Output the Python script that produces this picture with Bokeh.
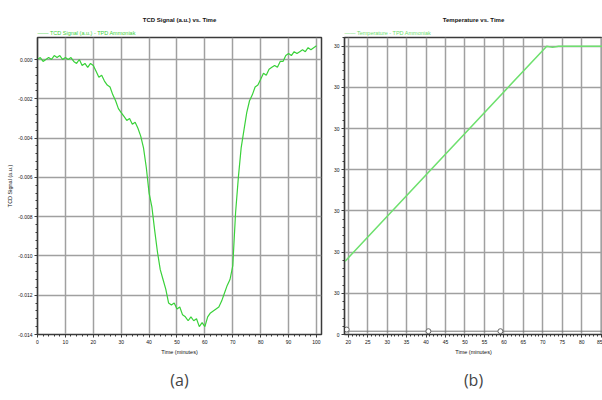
from bokeh.plotting import figure
from bokeh.layouts import row
from bokeh.models import FixedTicker, PrintfTickFormatter, Range1d, Title
from bokeh.embed import file_html
from bokeh.resources import INLINE

# ---------------- data ----------------
tcd_time = list(range(0, 101))
tcd_signal = [
    0.0000, 0.0001, -0.0001, 0.0000, 0.0001, 0.0000, 0.0002, 0.0001, 0.0002, 0.0000,
    0.0001, 0.0000, 0.0001, -0.0001, -0.0002, 0.0000, -0.0003, -0.0002, -0.0004, -0.0002,
    -0.0003, -0.0006, -0.0009, -0.0008, -0.0011, -0.0013, -0.0014, -0.0018, -0.0021, -0.0025,
    -0.0027, -0.0029, -0.0031, -0.0030, -0.0033, -0.0032, -0.0035, -0.0039, -0.0045, -0.0055,
    -0.0068, -0.0075, -0.0087, -0.0098, -0.0107, -0.0112, -0.0117, -0.0124, -0.0125, -0.0124,
    -0.0127, -0.0126, -0.0130, -0.0131, -0.0133, -0.0131, -0.0133, -0.0132, -0.0136, -0.0134,
    -0.0136, -0.0131, -0.0129, -0.0128, -0.0127, -0.0126, -0.0123, -0.0119, -0.0115, -0.0112,
    -0.0105, -0.0078, -0.0060, -0.0045, -0.0036, -0.0027, -0.0021, -0.0018, -0.0014, -0.0013,
    -0.0010, -0.0007, -0.0008, -0.0005, -0.0004, -0.0003, -0.0004, -0.0001, -0.0001, 0.0002,
    0.0003, 0.0002, 0.0004, 0.0003, 0.0004, 0.0005, 0.0004, 0.0006, 0.0005, 0.0006,
    0.0007,
]
temp_time = [19.2, 71.0, 72.5, 74.0, 86.0]
temp_value = [178, 700, 697, 700, 700]
baseline_time = [19.0, 86.0]
baseline_value = [8, 8]
marker_time = [19.6, 40.6, 59.1]
marker_value = [12, 8, 8]

tcd_x_ticks = list(range(0, 101, 10))
tcd_y_ticks = [0.0, -0.002, -0.004, -0.006, -0.008, -0.010, -0.012, -0.014]
temp_x_ticks = list(range(20, 86, 5))
temp_y_ticks = [0, 100, 200, 300, 400, 500, 600, 700]
temp_y_labels = ["0", "30", "30", "30", "30", "30", "30", "30"]

FONT = "Liberation Sans"
GREEN = "#3ad13a"
GREEN2 = "#6ee06e"
GRID = "#a0a0a0"


def style(p):
    p.outline_line_color = "#3a3a3a"
    p.outline_line_width = 1.5
    p.background_fill_color = "white"
    p.border_fill_color = "white"
    for g in (p.xgrid, p.ygrid):
        g.grid_line_color = GRID
        g.grid_line_width = 1.5
    for ax in (p.xaxis, p.yaxis):
        ax.axis_line_color = "#3a3a3a"
        ax.axis_line_width = 1.2
        ax.major_tick_line_color = "#3a3a3a"
        ax.minor_tick_line_color = "#3a3a3a"
        ax.major_tick_in = 0
        ax.major_tick_out = 3
        ax.minor_tick_in = 0
        ax.minor_tick_out = 2
        ax.major_label_text_font = FONT
        ax.major_label_text_font_size = "5px"
        ax.major_label_text_color = "#111111"
        ax.major_label_standoff = 2
        ax.axis_label_text_font = FONT
        ax.axis_label_text_font_size = "5.5px"
        ax.axis_label_text_font_style = "normal"
        ax.axis_label_text_color = "#111111"
        ax.axis_label_standoff = 2


def add_titles(p, legend_text, legend_color, title_text, title_offset):
    p.title.visible = False
    p.add_layout(Title(text=legend_text, align="left", text_font=FONT,
                       text_font_size="5.5px", text_font_style="normal",
                       text_color=legend_color, standoff=3), "above")
    p.add_layout(Title(text=title_text, align="center", offset=title_offset,
                       text_font=FONT, text_font_size="6px", text_font_style="bold",
                       text_color="#111111", standoff=7), "above")


# ---------------- left panel ----------------
p1 = figure(width=330, height=400, min_border_left=37,
            min_border_right=9, min_border_top=33, min_border_bottom=65,
            x_range=Range1d(0, 101.8), y_range=Range1d(-0.014, 0.00112),
            output_backend="svg", toolbar_location=None)
style(p1)
p1.xaxis.ticker = FixedTicker(ticks=tcd_x_ticks,
                              minor_ticks=[i * 2 for i in range(0, 51)])
p1.yaxis.ticker = FixedTicker(ticks=tcd_y_ticks,
                              minor_ticks=[-0.0004 * i for i in range(0, 36)])
p1.yaxis.formatter = PrintfTickFormatter(format="%.3f")
p1.xaxis.axis_label = "Time (minutes)"
p1.yaxis.axis_label = "TCD Signal (a.u.)"
p1.line(tcd_time, tcd_signal, line_color=GREEN, line_width=1.2)
add_titles(p1, "\u2014\u2014  TCD Signal (a.u.) - TPD Ammoniak", GREEN,
           "TCD Signal (a.u.) vs. Time", 0)

# ---------------- right panel ----------------
p2 = figure(width=272, height=400, min_border_left=10,
            min_border_right=0, min_border_top=37, min_border_bottom=66,
            x_range=Range1d(19.04, 85.33), y_range=Range1d(0, 721),
            output_backend="svg", toolbar_location=None)
style(p2)
p2.xaxis.ticker = FixedTicker(ticks=temp_x_ticks, minor_ticks=list(range(19, 86)))
p2.yaxis.ticker = FixedTicker(ticks=temp_y_ticks,
                              minor_ticks=[20 * i for i in range(0, 37)])
p2.yaxis.major_label_overrides = {t: l for t, l in zip(temp_y_ticks, temp_y_labels)}
p2.xaxis.axis_label = "Time (minutes)"
p2.line(temp_time, temp_value, line_color=GREEN2, line_width=1.5)
p2.line(baseline_time, baseline_value, line_color="#777777", line_width=1)
p2.scatter(marker_time, marker_value, marker="circle", size=5,
           fill_color="white", line_color="#666666", line_width=1)
add_titles(p2, "\u2014\u2014  Temperature - TPD Ammoniak", GREEN2,
           "Temperature vs. Time", 5)

p1.add_layout(Title(text="(a)", align="center", offset=-14, text_font="Open Sans",
                    text_font_size="16px", text_font_style="normal",
                    standoff=19), "below")
p2.add_layout(Title(text="(b)", align="center", offset=11, text_font="Open Sans",
                    text_font_size="16px", text_font_style="normal",
                    standoff=18), "below")

layout = row(p1, p2)
open("out.html", "w").write(file_html(layout, INLINE))
